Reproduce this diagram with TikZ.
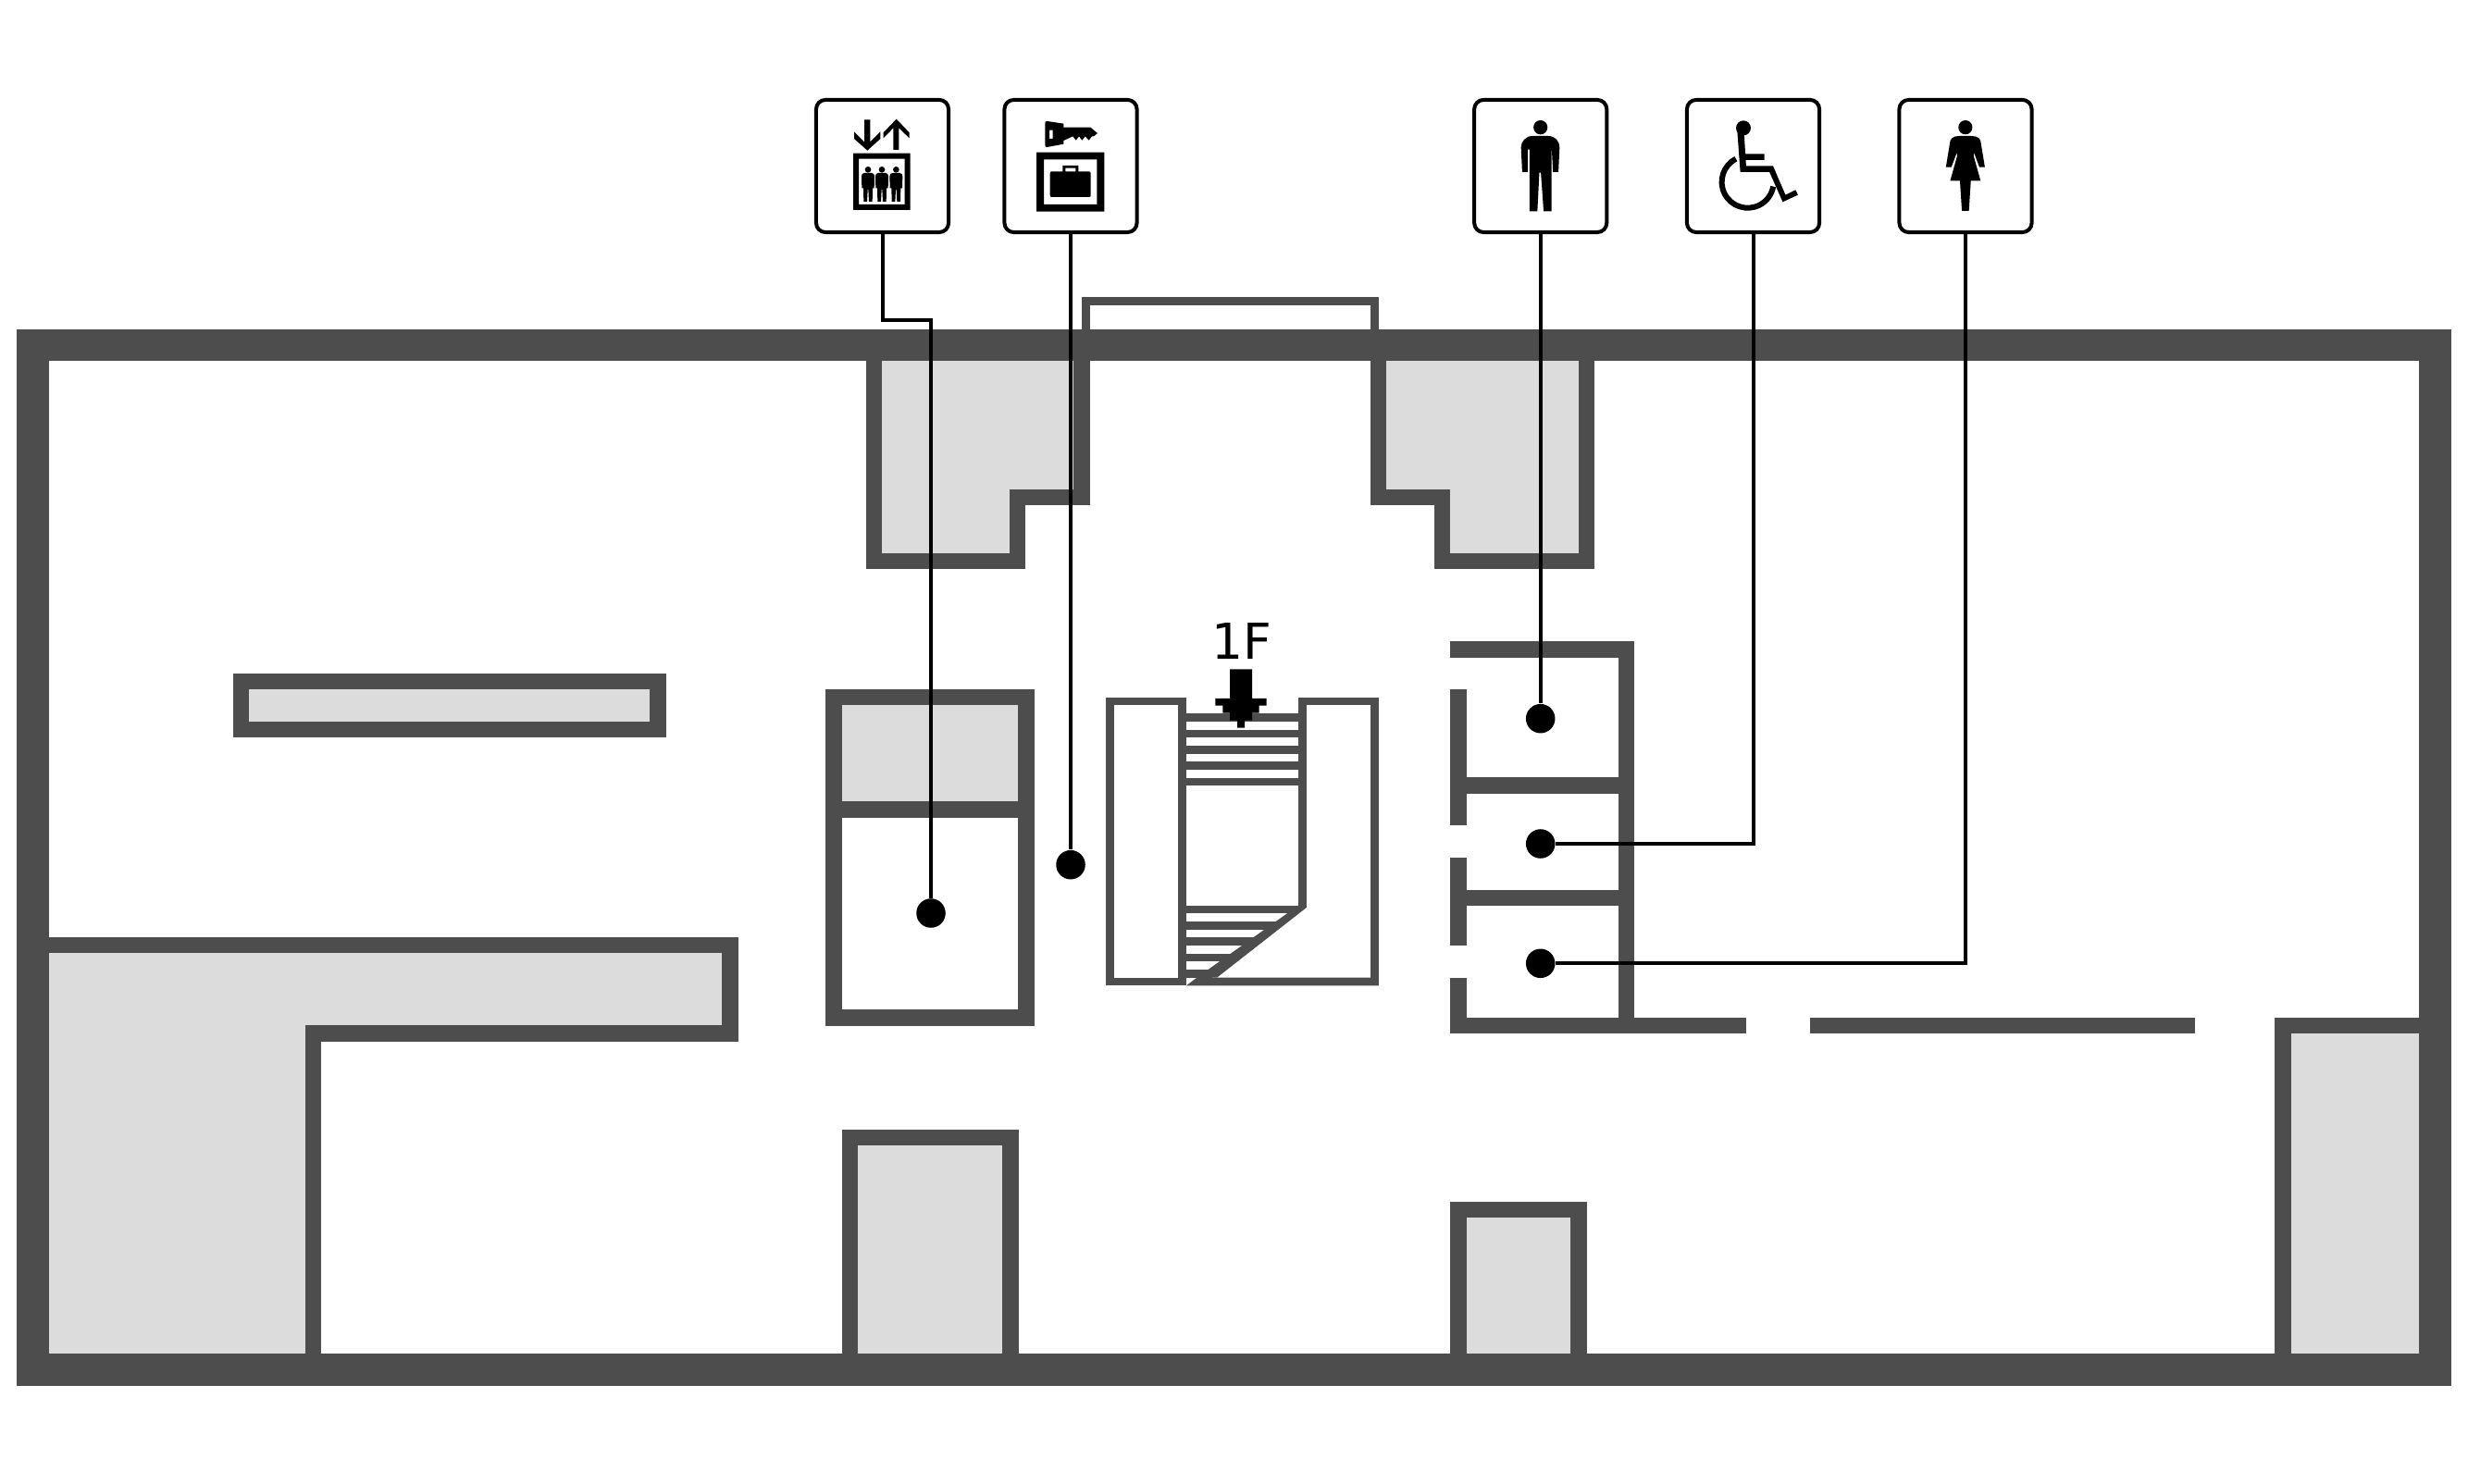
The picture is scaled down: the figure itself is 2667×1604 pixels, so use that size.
\documentclass[tikz,border=0pt]{standalone}
\usepackage{fontspec}
\setmainfont{DejaVu Sans}
\definecolor{wallc}{HTML}{4D4D4D}
\definecolor{roomc}{HTML}{DCDCDC}
\tikzset{
  wall/.style={draw=wallc,line width=0.172cm,miter limit=10},
  thinwall/.style={draw=wallc,line width=0.087cm},
  room/.style={wall,fill=roomc},
  wallfill/.style={fill=wallc,draw=none},
  sign/.style={draw=black,fill=white,line width=0.04cm,rounded corners=0.1cm,inner sep=0pt,minimum width=1.43cm,minimum height=1.43cm},
  spot/.style={circle,fill=black,draw=none,inner sep=0pt,minimum size=0.315cm},
  leader/.style={draw=black,line width=0.04cm},
  glyph/.style={fill=black,draw=none},
}
\begin{document}
\begin{tikzpicture}[x=0.01cm,y=-0.01cm]
\useasboundingbox (0,0) rectangle (2667,1604);
\fill[white] (0,0) rectangle (2667,1604);

% grey rooms
\draw[room] (944.5,373) -- (944.5,606.5) -- (1099.5,606.5) -- (1099.5,537.5) -- (1169,537.5) -- (1169,373);
\draw[room] (1714.5,373) -- (1714.5,606.5) -- (1558.5,606.5) -- (1558.5,537.5) -- (1489.5,537.5) -- (1489.5,373);
\draw[room] (260.5,736.5) rectangle (711,788.7);
\draw[room] (35.5,1021.6) -- (789,1021.6) -- (789,1117) -- (338.6,1117) -- (338.6,1480) -- (35.5,1480) -- cycle;
\draw[room] (918.5,1480) -- (918.5,1229.6) -- (1092,1229.6) -- (1092,1480);
\draw[room] (1576,1480) -- (1576,1307.5) -- (1706,1307.5) -- (1706,1480);
\draw[room] (2631,1108.5) -- (2467,1108.5) -- (2467,1480) -- (2631,1480);

% lift shaft
\fill[roomc] (901,762) rectangle (1109,875);
\draw[wall] (901,753.7) rectangle (1109,1100);
\draw[wall] (901,875) -- (1109,875);

% vestibule
\draw[thinwall] (1173.5,373) -- (1173.5,325.5) -- (1485.5,325.5) -- (1485.5,373);

% restroom walls
\draw[wall] (1567.3,702) -- (1757.6,702) -- (1757.6,1108.5);
\draw[wall] (1576,745) -- (1576,892);
\draw[wall] (1576,927) -- (1576,1022);
\draw[wall] (1576,1056.7) -- (1576,1108.5) -- (1887.3,1108.5);
\draw[wall] (1576,849) -- (1757.6,849);
\draw[wall] (1576,970.3) -- (1757.6,970.3);
\draw[wall] (1956,1108.5) -- (2372.3,1108.5);

% outer wall
\draw[draw=wallc,line width=0.345cm] (35.5,373) rectangle (2631.2,1480.5);

% stairs
\draw[thinwall] (1199.7,758) rectangle (1277.6,1061);
\draw[thinwall] (1407.3,981) -- (1407.3,758) -- (1485.3,758) -- (1485.3,1061) -- (1300,1061);
\foreach \ya in {771.3,788.7,806,823.3,840.7}
  \fill[wallc] (1282,\ya) rectangle (1403,\ya+8.7);
\fill[wallc] (1282,978.7) rectangle (1402,987.3);
\fill[wallc] (1282,996) rectangle (1379,1004.7);
\fill[wallc] (1282,1013.3) rectangle (1356,1022);
\fill[wallc] (1282,1030.7) rectangle (1333,1039.3);
\fill[wallc] (1282,1048) rectangle (1310,1056.7);
\fill[wallc] (1403,978.7) -- (1411.7,981) -- (1315,1056.7) -- (1293.3,1056.7) -- cycle;
\fill[wallc] (1282,1065.3) -- (1293.3,1056.7) -- (1489.7,1056.7) -- (1489.7,1065.3) -- cycle;

% floor marker
\node[inner sep=0pt,font=\fontsize{15.2pt}{16pt}\selectfont] (floor) at (1342,692.7) {1F};
\fill[black] (1329,723.3) -- (1353,723.3) -- (1353,755) -- (1368.7,755) -- (1368.7,762.7) -- (1360.7,762.7) -- (1360.7,770.7) -- (1353,770.7) -- (1353,778.7) -- (1345,778.7) -- (1345,786.7) -- (1337,786.7) -- (1337,778.7) -- (1329,778.7) -- (1329,770.7) -- (1321.3,770.7) -- (1321.3,762.7) -- (1313.3,762.7) -- (1313.3,755) -- (1329,755) -- cycle;

% dots
\node[spot] (d1) at (1006,987) {};
\node[spot] (d2) at (1157,934.7) {};
\node[spot] (d3) at (1664.7,776.7) {};
\node[spot] (d4) at (1664.7,912) {};
\node[spot] (d5) at (1664.7,1041.3) {};

% signs
\node[sign] (s1) at (953.5,179.5) {};
\node[sign] (s2) at (1157,179.5) {};
\node[sign] (s3) at (1664.7,179.5) {};
\node[sign] (s4) at (1894.5,179.5) {};
\node[sign] (s5) at (2124,179.5) {};

% leaders
\coordinate (j1) at (1006,346);
\draw[leader] (s1.south) |- (j1) -- (d1);
\draw[leader] (s2.south) -- (d2);
\draw[leader] (s3.south) -- (d3);
\draw[leader] (s4.south) |- (d4);
\draw[leader] (s5.south) |- (d5);

% lift + locker icons
\begin{scope}[shift={(860,90)},xscale=1/3,yscale=1/3]
  \fill[glyph,even odd rule] (186,227) rectangle (371,411) (204,245) rectangle (353,393);
  \fill[glyph] (189,157) -- (222,190) -- (222,118) -- (241,118) -- (241,190) -- (274,157) -- (274,180) -- (232,218) -- (189,180) -- cycle;
  \fill[glyph] (316,216) -- (316,145) -- (284,178) -- (284,160) -- (326,116) -- (368,160) -- (368,178) -- (334,145) -- (334,216) -- cycle;
  \foreach \px in {234,279,325} {
    \begin{scope}[shift={(\px,0)}]
      \fill[glyph] (0,280) ellipse[x radius=10,y radius=10];
      \fill[glyph] (-12,291) -- (12,291) .. controls (18,291) and (21,296) .. (21,302) -- (20,340) -- (15,340) -- (14,384) -- (3,384) -- (1,345) -- (-1,345) -- (-3,384) -- (-14,384) -- (-15,340) -- (-20,340) -- (-21,302) .. controls (-21,296) and (-18,291) .. (-12,291) -- cycle;
    \end{scope}
  }
  \fill[glyph,even odd rule] (808,130) .. controls (808,124) and (810,123) .. (815,123) -- (868,131) -- (868,143) -- (955,143) -- (978,162) -- (966,172) -- (960,172) -- (950,185) -- (938,172) -- (928,185) -- (918,172) -- (908,185) -- (898,172) -- (868,186) -- (868,197) -- (815,207) .. controls (810,207) and (808,206) .. (808,200) -- cycle
     (822,152) rectangle (833,180);
  \fill[glyph,even odd rule] (780,224) rectangle (1000,416) (804,247) rectangle (976,393);
  \fill[glyph,even odd rule] (824,292) .. controls (824,288) and (826,286) .. (830,286) -- (865,286) -- (865,267) -- (916,267) -- (916,286) -- (950,286) .. controls (954,286) and (956,288) .. (956,292) -- (956,363) .. controls (956,367) and (954,369) .. (950,369) -- (830,369) .. controls (826,369) and (824,367) .. (824,363) -- cycle
     (874,275) rectangle (907,286);
\end{scope}

% wheelchair wheel
\coordinate (wc) at (1888.6,196.7);
\draw[black,line width=0.06cm] ([shift={(117:0.28cm)}]wc) arc[start angle=117,end angle=350,radius=0.28cm];

% person icons
\begin{scope}[shift={(1570,90)},xscale=1/2.376,yscale=1/3]
  % man
  \fill[glyph] (225,143) ellipse[x radius=18,y radius=23];
  \fill[glyph] (205,171) -- (245,171) .. controls (264,171) and (274,190) .. (274,208) -- (271,288) -- (257,288) -- (254,215) -- (253,215) -- (253,415) -- (233,415) -- (226,290) -- (222,290) -- (217,415) -- (197,415) -- (197,215) -- (192,215) -- (192,288) -- (178,288) -- (175,208) .. controls (175,190) and (186,171) .. (205,171) -- cycle;
  % wheelchair
  \fill[glyph] (746,145) ellipse[x radius=19,y radius=24];
  \fill[glyph] (730,150) -- (748,165) -- (751,229) -- (800,229) -- (800,249) -- (752,249) -- (753,268) -- (822,268) -- (854,362) -- (880,346) -- (886,362) -- (847,385) -- (813,288) -- (738,288) -- cycle;
  % woman
  \begin{scope}[shift={(1316,0)}]
    \fill[glyph] (0,143) ellipse[x radius=18,y radius=23];
    \fill[glyph] (-16,171) -- (16,171) .. controls (32,171) and (40,180) .. (40,195) -- (50,272) -- (36,272) -- (22,225) -- (21,235) -- (39,316) -- (14,316) -- (9,414) -- (-9,414) -- (-14,316) -- (-39,316) -- (-21,235) -- (-22,225) -- (-36,272) -- (-50,272) -- (-40,195) .. controls (-40,180) and (-32,171) .. (-16,171) -- cycle;
  \end{scope}
\end{scope}
\end{tikzpicture}
\end{document}
